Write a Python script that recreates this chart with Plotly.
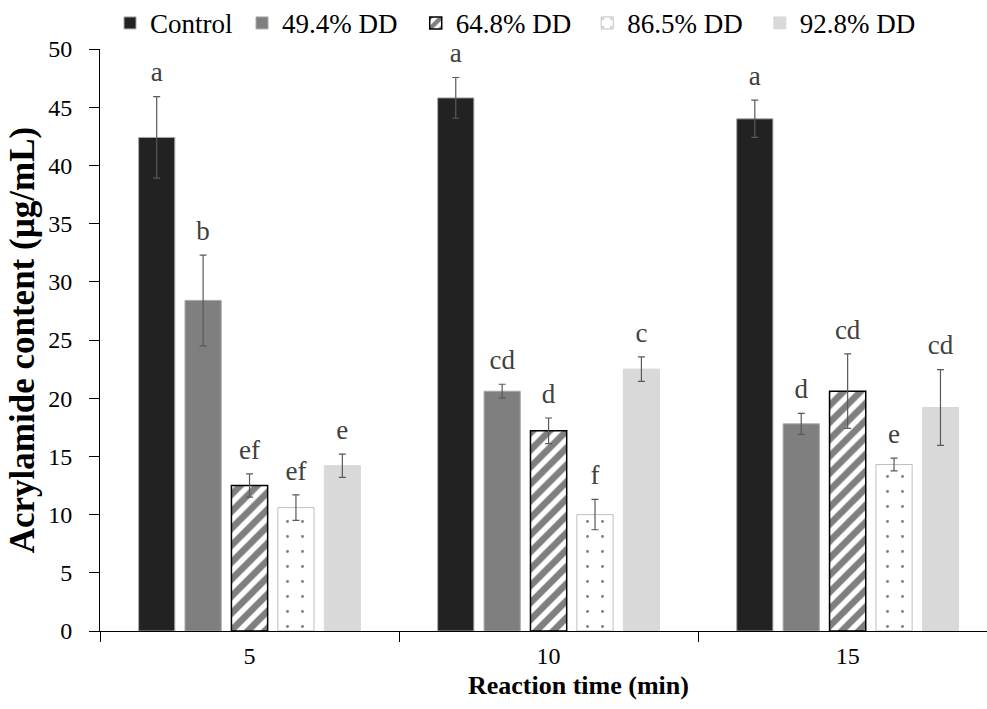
import plotly.graph_objects as go

# ---- data ----
times = ["5", "10", "15"]
series = ["Control", "49.4% DD", "64.8% DD", "86.5% DD", "92.8% DD"]

control = [42.4, 45.8, 44.0]
dd494 = [28.4, 20.6, 17.8]
dd648 = [12.5, 17.2, 20.6]
dd865 = [10.6, 10.0, 14.3]
dd928 = [14.2, 22.5, 19.2]

err_control = [3.5, 1.75, 1.6]
err_494 = [3.9, 0.6, 0.9]
err_648 = [1.0, 1.1, 3.2]
err_865 = [1.1, 1.3, 0.55]
err_928 = [1.0, 1.05, 3.25]

let_control = ["a", "a", "a"]
let_494 = ["b", "cd", "d"]
let_648 = ["ef", "d", "cd"]
let_865 = ["ef", "f", "e"]
let_928 = ["e", "c", "cd"]

values = [control, dd494, dd648, dd865, dd928]
errors = [err_control, err_494, err_648, err_865, err_928]
letters = [let_control, let_494, let_648, let_865, let_928]

y_ticks = [0, 5, 10, 15, 20, 25, 30, 35, 40, 45, 50]

# ---- styles ----
FONT = "Liberation Serif, Times New Roman, serif"
styles = [
    dict(color="#222222", line=dict(color="#a8a8a8", width=1)),
    dict(color="#7f7f7f", line=dict(color="#a8a8a8", width=1)),
    dict(color="white", line=dict(color="black", width=1.5),
         pattern=dict(shape="/", fgcolor="black", bgcolor="white", size=12, solidity=0.55)),
    dict(color="white", line=dict(color="#bfbfbf", width=1),
         pattern=dict(shape=".", fgcolor="black", bgcolor="white", size=15, solidity=0.03)),
    dict(color="#d9d9d9", line=dict(color="#d9d9d9", width=1)),
]
legend_widths = [87, 128.7, 126.5, 127.6, 127]

fig = go.Figure()
for i, name in enumerate(series):
    fig.add_trace(go.Bar(
        x=times, y=values[i], name=name, offsetgroup=str(i),
        marker=styles[i], legendwidth=legend_widths[i],
        error_y=dict(type="data", array=errors[i], visible=True,
                     color="#595959", thickness=1.2, width=3.5),
        hoverinfo="skip",
    ))

for i, name in enumerate(series):
    tops = [v + e for v, e in zip(values[i], errors[i])]
    fig.add_trace(go.Scatter(
        x=times, y=tops, mode="markers+text", text=letters[i],
        textposition="top center", offsetgroup=str(i),
        marker=dict(size=12, color="rgba(0,0,0,0)"),
        textfont=dict(family=FONT, size=27, color="#404040"),
        showlegend=False, hoverinfo="skip", cliponaxis=False,
    ))

fig.update_layout(
    width=987, height=709,
    margin=dict(l=100, r=0, t=49, b=78, autoexpand=False),
    paper_bgcolor="white", plot_bgcolor="white",
    barmode="group", bargap=0.224, bargroupgap=0.22,
    scattermode="group", scattergap=0.224,
    font=dict(family=FONT, color="black", size=24),
    showlegend=True,
    legend=dict(orientation="h", xref="paper", yref="paper",
                x=0.0113, xanchor="left", y=1.044, yanchor="middle",
                font=dict(family=FONT, size=27, color="black"),
                bgcolor="rgba(0,0,0,0)", borderwidth=0,
                traceorder="normal"),
    xaxis=dict(type="category", range=[-0.5, 2.466],
               showline=True, linecolor="black", linewidth=1,
               ticks="outside", tickson="boundaries", ticklen=10,
               tickcolor="black", tickwidth=1,
               ticklabelstandoff=3,
               showgrid=False, zeroline=False,
               tickfont=dict(family=FONT, size=24, color="black")),
    yaxis=dict(range=[0, 50], tickvals=y_ticks,
               showline=True, linecolor="black", linewidth=1,
               ticks="outside", ticklen=10, tickcolor="black", tickwidth=1,
               ticklabelstandoff=12,
               showgrid=False, zeroline=False,
               tickfont=dict(family=FONT, size=24, color="black"),
               title=dict(text="<b>Acrylamide content (µg/mL)</b>",
                          font=dict(family=FONT, size=35, color="black"),
                          standoff=2)),
    annotations=[dict(text="<b>Reaction time (min)</b>", xref="paper", yref="paper",
                      x=0.54, y=-0.0945, xanchor="center", yanchor="middle",
                      showarrow=False,
                      font=dict(family=FONT, size=26, color="black"))],
)

fig.write_html("out.html",
               config={"displayModeBar": False, "staticPlot": True},
               post_script="document.body.style.margin='0';document.body.style.overflow='hidden';")
